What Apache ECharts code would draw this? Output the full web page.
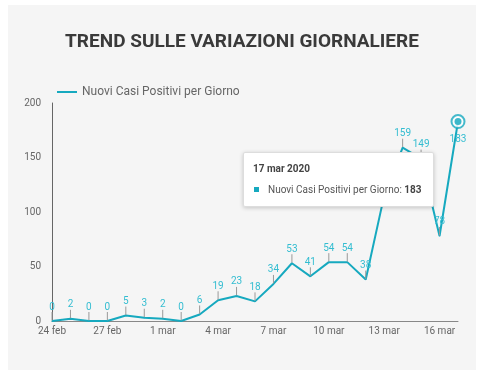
<!DOCTYPE html>
<html><head><meta charset="utf-8">
<script src="https://cdn.jsdelivr.net/npm/echarts@6/dist/echarts.min.js"></script>
<style>
html,body{margin:0;padding:0;background:#fff;width:484px;height:380px;overflow:hidden;}
#panel{position:absolute;left:8px;top:5px;width:468px;height:365px;background:#f5f5f5;}
#c{position:absolute;left:0;top:0;width:484px;height:380px;}
</style></head>
<body><div id="panel"></div><div id="c"></div>
<script>
const categories = ['24 feb','25 feb','26 feb','27 feb','28 feb','29 feb','1 mar','2 mar','3 mar','4 mar','5 mar','6 mar','7 mar','8 mar','9 mar','10 mar','11 mar','12 mar','13 mar','14 mar','15 mar','16 mar','17 mar'];
const newCases = [0,2,0,0,5,3,2,0,6,19,23,18,34,53,41,54,54,38,115,159,149,78,183];
const yTicks = [0,50,100,150,200];
const seriesName = 'Nuovi Casi Positivi per Giorno';
const year = '2020';

const lineColor = '#16a9bf';
const labelColor = '#34bdd1';
const last = newCases.length - 1;

const lineData = newCases.map((v, i) => i === last
  ? {value: v, label: {position: 'bottom', distance: 16}, labelLine: {show: false}}
  : v);

const chart = echarts.init(document.getElementById('c'), null, {renderer:'canvas'});
chart.setOption({
  backgroundColor: 'transparent',
  textStyle: {fontFamily: 'Roboto'},
  title: {
    text: 'TREND SULLE VARIAZIONI GIORNALIERE',
    left: 'center', top: 28,
    textStyle: {fontFamily:'Roboto', fontSize: 19, fontWeight: 'bold', color: '#3a3a3a'}
  },
  legend: {
    data: [{name: seriesName, icon: 'rect'}], left: 52, top: 81,
    itemWidth: 20, itemHeight: 2, itemGap: 6,
    textStyle: {color: '#666', fontSize: 12, fontFamily:'Roboto'}
  },
  grid: {left: 52, right: 26, top: 103, bottom: 59},
  tooltip: {
    trigger: 'axis',
    triggerOn: 'none',
    alwaysShowContent: true,
    axisPointer: {type: 'none'},
    backgroundColor: '#fff',
    borderColor: '#ddd',
    borderWidth: 1,
    padding: [8, 9],
    extraCssText: 'box-shadow:0 1px 4px rgba(0,0,0,0.2);border-radius:2px;',
    position: function(){ return [243, 152]; },
    formatter: function(params){
      const p = params.find(q => q.seriesName === seriesName) || params[0];
      return '<div style="font-family:Roboto;font-size:10px;color:#444;line-height:16px;width:171px">' +
        '<div style="font-weight:bold;margin-bottom:5px">' + p.axisValue + ' ' + year + '</div>' +
        '<div><span style="display:inline-block;width:5px;height:5px;background:' + lineColor + ';margin:0 9px 1px 1px"></span>' +
        '<span style="color:#555">' + p.seriesName + ': </span><b>' + p.value + '</b></div></div>';
    }
  },
  xAxis: {
    type: 'category', data: categories, boundaryGap: false,
    axisLine: {lineStyle: {color: '#888', width: 1}},
    axisTick: {show: false},
    axisLabel: {interval: 2, color: '#666', fontSize: 10, margin: 5}
  },
  yAxis: {
    type: 'value', min: 0, max: yTicks[yTicks.length-1], interval: yTicks[1]-yTicks[0],
    axisLine: {show: true, lineStyle: {color: '#666', width: 1}},
    axisTick: {show: false},
    splitLine: {show: false},
    axisLabel: {color: '#666', fontSize: 10, margin: 11}
  },
  series: [
    {
      name: seriesName, type: 'line', data: lineData,
      showSymbol: true, symbol: 'circle', symbolSize: 1,
      lineStyle: {color: lineColor, width: 2},
      itemStyle: {color: lineColor},
      emphasis: {disabled: true},
      label: {show: true, position: 'top', distance: 2, color: labelColor, fontSize: 10},
      labelLayout: {dy: -6.5},
      labelLine: {show: true, lineStyle: {color: '#999', width: 1}},
      z: 3
    },
    {
      name: 'ring', type: 'scatter',
      data: newCases.map((v,i) => i === last ? v : null),
      symbol: 'emptyCircle', symbolSize: 13,
      itemStyle: {color: lineColor, borderColor: lineColor, borderWidth: 1.5},
      silent: true, z: 4, tooltip: {show: false}
    },
    {
      name: 'dot', type: 'scatter',
      data: newCases.map((v,i) => i === last ? v : null),
      symbol: 'circle', symbolSize: 7,
      itemStyle: {color: lineColor},
      silent: true, z: 5, tooltip: {show: false}
    }
  ]
});
chart.dispatchAction({type: 'showTip', seriesIndex: 0, dataIndex: last});
</script></body></html>
